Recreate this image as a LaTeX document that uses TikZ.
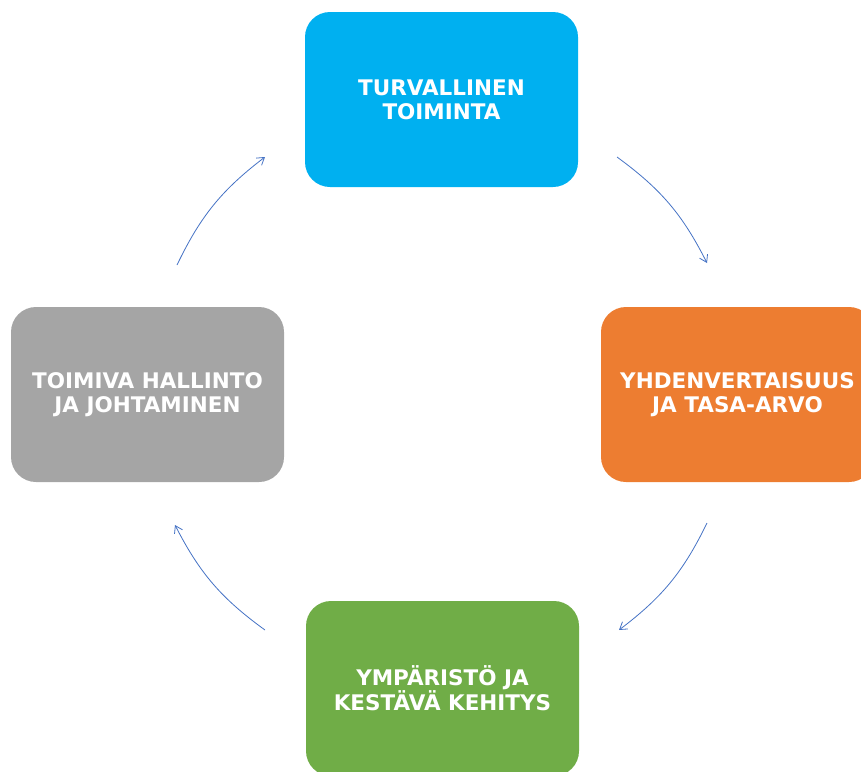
\documentclass[tikz,border=0pt]{standalone}
\usepackage{fontspec}
\setmainfont{DejaVu Sans}
\usetikzlibrary{arrows.meta}
\definecolor{boxblue}{RGB}{0,176,240}
\definecolor{boxorange}{RGB}{237,125,49}
\definecolor{boxgray}{RGB}{165,165,165}
\definecolor{boxgreen}{RGB}{112,173,71}
\definecolor{arrowblue}{RGB}{68,114,196}
\begin{document}
\begin{tikzpicture}[x = 1pt, y = -1pt,
                themebox/.style = {rounded corners = 25pt, minimum width = 273pt, minimum height = 175pt,
                    inner sep = 0pt, align = center, text = white,
                    font = \fontsize{21.5}{24}\selectfont\bfseries},
                cyclearrow/.style = {arrowblue, line width = 0.8pt, -{Straight Barb[length = 7pt, width = 9pt]}}]
                \useasboundingbox (0, 0) rectangle (861, 771);
                \clip (0, 0) rectangle (861, 771);
                \node[themebox, fill = boxblue] (turva) at (441.5, 99.5) {TURVALLINEN\\TOIMINTA};
                \node[themebox, fill = boxorange] (yhden) at (737.5, 394.5) {YHDENVERTAISUUS\\JA TASA-ARVO};
                \node[themebox, fill = boxgreen] (ymp) at (442.5, 688.5) {YMPÄRISTÖ JA\\KESTÄVÄ KEHITYS};
                \node[themebox, fill = boxgray] (hallinto) at (147.5, 394.5) {TOIMIVA HALLINTO\\JA JOHTAMINEN};
                % arrow end points on the circle round the boxes
                \coordinate (a1) at (617, 157);
                \coordinate (a2) at (707, 263);
                \coordinate (b1) at (707, 523);
                \coordinate (b2) at (619, 630);
                \coordinate (c1) at (265, 630);
                \coordinate (c2) at (175, 525);
                \coordinate (d1) at (177, 265);
                \coordinate (d2) at (265, 157);
                \draw[cyclearrow] (a1) to[bend left = 13.5] (a2);
                \draw[cyclearrow] (b1) to[bend left = 13.5] (b2);
                \draw[cyclearrow] (c1) to[bend left = 13.5] (c2);
                \draw[cyclearrow] (d1) to[bend left = 13.5] (d2);
            \end{tikzpicture}
\end{document}
